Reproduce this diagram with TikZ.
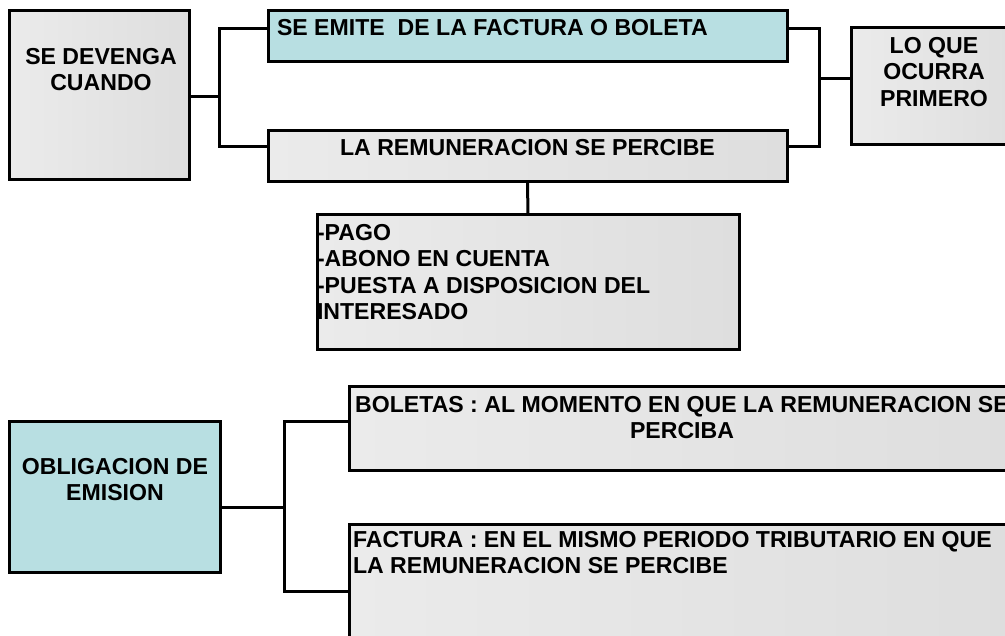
\documentclass[tikz,border=0pt]{standalone}
\usepackage{fontspec}
\setmainfont{Liberation Sans}
\definecolor{tealfill}{HTML}{B8DFE2}
\definecolor{grayA}{HTML}{EBEBEB}
\definecolor{grayB}{HTML}{DEDEDE}
\tikzset{
  box/.style={draw=black, line width=3pt, inner sep=0pt, outer sep=0pt, anchor=north west},
  graybox/.style={box, left color=grayA, right color=grayB},
  tealbox/.style={box, fill=tealfill},
  txt/.style={inner sep=0pt, outer sep=0pt, font=\bfseries\fontsize{23.1}{26.5}\selectfont},
  conn/.style={draw=black, line width=3pt, line join=miter}
}
\begin{document}
\begin{tikzpicture}[x=1pt,y=-1pt]
\useasboundingbox (0,0) rectangle (1005,636);
% boxes
\node[graybox, minimum width=180, minimum height=169] (A) at (9,11) {};
\node[tealbox, minimum width=519, minimum height=51] (B) at (268,11) {};
\node[graybox, minimum width=519, minimum height=51] (C) at (268,131) {};
\node[graybox, minimum width=170, minimum height=117] (D) at (851,28) {};
\node[graybox, minimum width=422, minimum height=135] (E) at (317,215) {};
\node[tealbox, minimum width=211, minimum height=150] (F) at (9,422) {};
\node[graybox, minimum width=666, minimum height=84] (G) at (349,387) {};
\node[graybox, minimum width=666, minimum height=130] (H) at (349,524) {};
% texts
\node[txt, anchor=north, align=center] (tA) at (101,48) {SE DEVENGA\\CUANDO};
\node[txt, anchor=north west, align=left] (tB) at (277,19) {SE EMITE \ DE LA FACTURA O BOLETA};
\node[txt, anchor=north, align=center] (tC) at (527.5,139) {LA REMUNERACION SE PERCIBE};
\node[txt, anchor=north, align=center] (tD) at (934,37) {LO QUE\\OCURRA\\PRIMERO};
\node[txt, anchor=north west, align=left] (tE) at (317,224) {-PAGO\\-ABONO EN CUENTA\\-PUESTA A DISPOSICION DEL\\INTERESADO};
\node[txt, anchor=north, align=center] (tF) at (115,458) {OBLIGACION DE\\EMISION};
\node[txt, anchor=north, align=center] (tG) at (682,396) {BOLETAS : AL MOMENTO EN QUE LA REMUNERACION SE\\PERCIBA};
\node[txt, anchor=north west, align=left] (tH) at (353,531) {FACTURA : EN EL MISMO PERIODO TRIBUTARIO EN QUE\\LA REMUNERACION SE PERCIBE};
% junction columns
\coordinate (j1) at (219,0);
\coordinate (j2) at (819,0);
\coordinate (j3) at (284,0);
% attachment points
\coordinate (a1) at ([yshift=-1.5pt]A.east);
\coordinate (b1) at ([yshift=7.5pt]B.west);
\coordinate (c1) at ([yshift=9.5pt]C.west);
\coordinate (b2) at ([yshift=7.5pt]B.east);
\coordinate (c2) at ([yshift=9.5pt]C.east);
\coordinate (d1) at ([yshift=7.5pt]D.west);
\coordinate (f1) at ([yshift=-10pt]F.east);
\coordinate (g1) at ([yshift=7pt]G.west);
\coordinate (h1) at ([yshift=-2pt]H.west);
% connectors
\draw[conn] (a1) -- (a1 -| j1);
\draw[conn] (b1) -- (b1 -| j1) -- (c1 -| j1) -- (c1);
\draw[conn] (b2) -- (b2 -| j2) -- (c2 -| j2) -- (c2);
\draw[conn] (d1 -| j2) -- (d1);
\draw[conn] (C.south) -- (E.north);
\draw[conn] (f1) -- (f1 -| j3);
\draw[conn] (g1) -- (g1 -| j3) -- (h1 -| j3) -- (h1);
\end{tikzpicture}
\end{document}
